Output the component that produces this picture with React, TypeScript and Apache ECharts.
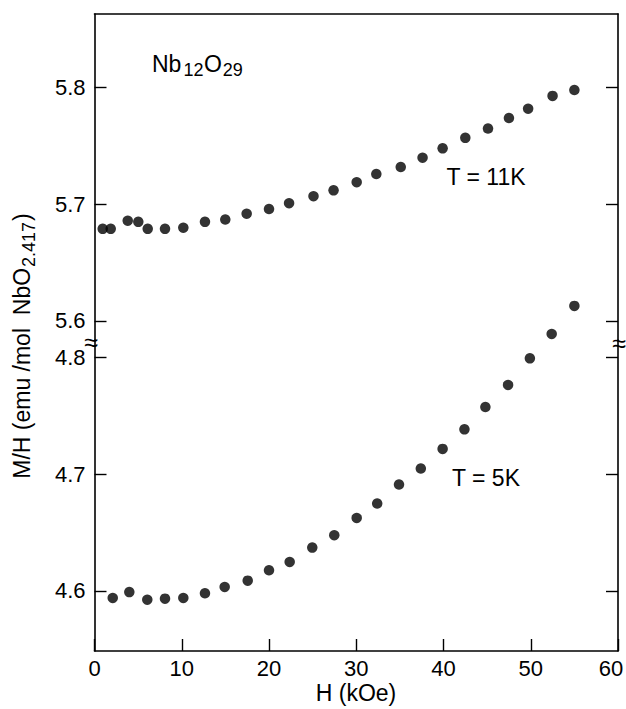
import React, { useEffect, useRef } from "react";
import * as echarts from "echarts";

// T = 11K series (upper panel)
const fieldUpper = [0.94, 1.86, 3.81, 5.02, 6.1, 8.08, 10.18, 12.66, 14.99, 17.44, 20.0, 22.3, 25.1, 27.4, 30.05, 32.3, 35.1, 37.6, 39.9, 42.5, 45.1, 47.5, 49.7, 52.5, 55.0];
const mhUpper = [5.679, 5.679, 5.686, 5.685, 5.679, 5.679, 5.680, 5.685, 5.687, 5.692, 5.696, 5.701, 5.707, 5.712, 5.719, 5.726, 5.732, 5.740, 5.748, 5.757, 5.765, 5.774, 5.782, 5.793, 5.798];

// T = 5K series (lower panel)
const fieldLower = [2.09, 3.99, 6.05, 8.08, 10.18, 12.66, 14.92, 17.56, 20.0, 22.37, 24.96, 27.48, 30.05, 32.4, 34.9, 37.4, 39.9, 42.4, 44.8, 47.4, 49.9, 52.4, 55.0];
const mhLower = [4.594, 4.599, 4.5925, 4.5934, 4.594, 4.598, 4.6034, 4.6088, 4.6177, 4.6248, 4.6371, 4.6477, 4.6625, 4.6748, 4.6911, 4.7048, 4.7216, 4.7383, 4.7574, 4.7763, 4.7991, 4.820, 4.844];

const upperTicks = [5.6, 5.7, 5.8];
const lowerTicks = [4.6, 4.7, 4.8];
const xTicksMin = 0;
const xTicksMax = 60;
const xTickStep = 10;

const FONT = "'Liberation Sans', Arial, Helvetica, sans-serif";
const INK = "#000";
const MAIN = 23;
const SUB = 18;
const TICK = 22;

function measure(text: string, size: number): number {
  const c = document.createElement("canvas").getContext("2d");
  if (!c) return text.length * size * 0.55;
  c.font = `${size}px ${FONT}`;
  return c.measureText(text).width;
}

// Builds text runs (main / subscript) laid out along local x, starting at x0
function runs(parts: { t: string; sub?: boolean; gap?: number }[], x0: number, yMain: number, subDy: number) {
  const out: any[] = [];
  let x = x0;
  for (const p of parts) {
    const size = p.sub ? SUB : MAIN;
    x += p.gap || 0;
    out.push({
      type: "text",
      x,
      y: yMain + (p.sub ? subDy : 0),
      style: { text: p.t, align: "left", verticalAlign: "middle", fontSize: size, fontFamily: FONT, fill: INK },
    });
    x += measure(p.t, size);
  }
  return { els: out, width: x - x0 };
}

export default function App() {
  const ref = useRef<HTMLDivElement>(null);
  useEffect(() => {
    document.body.style.margin = "0";
    if (!ref.current) return;
    const chart = echarts.init(ref.current, null, { renderer: "svg" });
    const axisLine = { show: true, lineStyle: { color: INK, width: 1.6 } };
    const L = 94.5;
    const W = 523.5;
    const yAxisBase = (grid: number, min: number, max: number, ticks: number[], right: boolean) => ({
      type: "value",
      gridIndex: grid,
      position: right ? "right" : "left",
      min,
      max,
      axisLine,
      splitLine: { show: false },
      axisTick: { show: true, inside: true, length: 12, customValues: ticks, lineStyle: { color: INK, width: 1.4 } },
      axisLabel: right
        ? { show: false }
        : {
            show: true,
            customValues: ticks,
            formatter: (v: number) => v.toFixed(1),
            fontSize: TICK,
            fontFamily: FONT,
            color: INK,
            margin: 9,
          },
    });

    const nbParts = [
      { t: "Nb" },
      { t: "12", sub: true, gap: 2 },
      { t: "O", gap: 0.5 },
      { t: "29", sub: true, gap: 1 },
    ];
    const nb = runs(nbParts, 152, 63.5, 6.5);

    const titleParts = [{ t: "M/H (emu /mol  NbO" }, { t: "2.417", sub: true, gap: 1 }, { t: ")", gap: 1 }];
    const tmp = runs(titleParts, 0, 0, 6.5);
    const title = runs(titleParts, -tmp.width / 2, 0, 6.5);

    chart.setOption({
      animation: false,
      backgroundColor: "#fff",
      grid: [
        { left: L, top: 14, width: W, height: 326, containLabel: false, outerBoundsMode: "none" },
        { left: L, top: 340, width: W, height: 311, containLabel: false, outerBoundsMode: "none" },
      ],
      xAxis: [
        {
          type: "value",
          gridIndex: 0,
          position: "top",
          min: xTicksMin,
          max: xTicksMax,
          interval: xTickStep,
          axisLine,
          axisTick: { show: false },
          axisLabel: { show: false },
          splitLine: { show: false },
        },
        {
          type: "value",
          gridIndex: 1,
          position: "bottom",
          min: xTicksMin,
          max: xTicksMax,
          interval: xTickStep,
          axisLine,
          axisTick: { show: true, inside: true, length: 12, lineStyle: { color: INK, width: 1.4 } },
          axisLabel: {
            show: true,
            fontSize: TICK,
            fontFamily: FONT,
            color: INK,
            margin: 6,
            formatter: (v: number) => (v === xTicksMax ? `{r|${v}}` : `${v}`),
            rich: { r: { fontSize: TICK, fontFamily: FONT, color: INK, padding: [0, 14, 0, 0] } },
          },
          splitLine: { show: false },
        },
      ],
      yAxis: [
        yAxisBase(0, 5.5837, 5.8632, upperTicks, false),
        yAxisBase(0, 5.5837, 5.8632, upperTicks, true),
        yAxisBase(1, 4.5486, 4.8148, lowerTicks, false),
        yAxisBase(1, 4.5486, 4.8148, lowerTicks, true),
      ],
      series: [
        {
          type: "scatter",
          name: "T = 11K",
          xAxisIndex: 0,
          yAxisIndex: 0,
          symbol: "circle",
          symbolSize: 10.5,
          itemStyle: { color: INK },
          clip: false,
          data: fieldUpper.map((h, i) => [h, mhUpper[i]]),
        },
        {
          type: "scatter",
          name: "T = 5K",
          xAxisIndex: 1,
          yAxisIndex: 2,
          symbol: "circle",
          symbolSize: 10.5,
          itemStyle: { color: INK },
          clip: false,
          data: fieldLower.map((h, i) => [h, mhLower[i]]),
        },
      ],
      graphic: [
        ...nb.els,
        {
          type: "text",
          x: 486,
          y: 177,
          style: { text: "T = 11K", align: "center", verticalAlign: "middle", fontSize: MAIN, fontFamily: FONT, fill: INK },
        },
        {
          type: "text",
          x: 486,
          y: 478,
          style: { text: "T = 5K", align: "center", verticalAlign: "middle", fontSize: MAIN, fontFamily: FONT, fill: INK },
        },
        {
          type: "text",
          x: 356,
          y: 693,
          style: { text: "H (kOe)", align: "center", verticalAlign: "middle", fontSize: MAIN, fontFamily: FONT, fill: INK },
        },
        {
          type: "group",
          x: 22,
          y: 346,
          rotation: Math.PI / 2,
          children: title.els,
        },
        {
          type: "text",
          x: 91,
          y: 342,
          style: { text: "≈", align: "center", verticalAlign: "middle", fontSize: 25, fontFamily: FONT, fill: INK },
        },
        {
          type: "text",
          x: 619,
          y: 343,
          style: { text: "≈", align: "center", verticalAlign: "middle", fontSize: 25, fontFamily: FONT, fill: INK },
        },
      ],
    });
    return () => chart.dispose();
  }, []);
  return <div ref={ref} style={{ width: 626, height: 709 }} />;
}
